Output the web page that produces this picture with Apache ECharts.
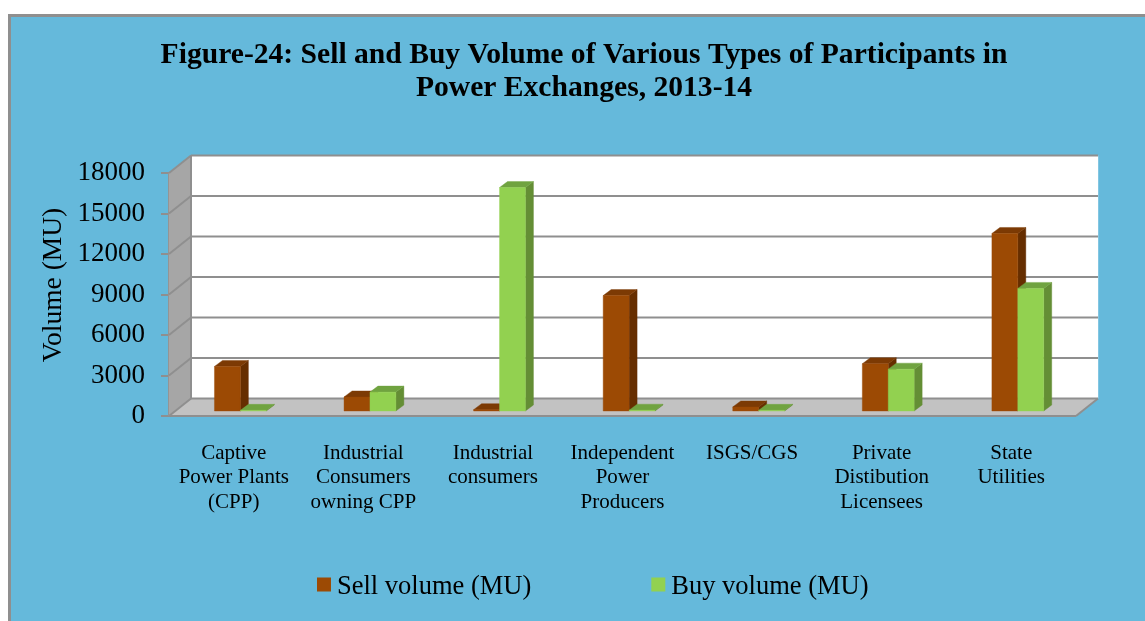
<!DOCTYPE html>
<html><head><meta charset="utf-8">
<style>html,body{margin:0;padding:0;background:#fff}#c{width:1145px;height:621px}</style>
<script src="https://cdn.jsdelivr.net/npm/echarts@6/dist/echarts.min.js"></script>
</head><body><div id="c"></div>
<script>
const categories = ['Captive\nPower Plants\n(CPP)','Industrial\nConsumers\nowning CPP','Industrial\nconsumers','Independent\nPower\nProducers','ISGS/CGS','Private\nDistibution\nLicensees','State\nUtilities'];
const sellVolume = [3300, 1040, 100, 8550, 300, 3500, 13150];
const buyVolume = [50, 1400, 16550, 60, 50, 3100, 9080];
const yTicks = [0,3000,6000,9000,12000,15000,18000];

const FONT = '"Liberation Serif","Times New Roman",serif';
const WALL = {x:22, y:-17.5}, BAR = {x:8, y:-6}, SHIFT = {x:6.6, y:-5};
const GRID_COLOR = '#8f8f8f';

function poly(points, fill) {
  return {type:'polygon', shape:{points}, style:{fill, stroke:fill, lineWidth:0.4}};
}
function frameItem(params, api) {
  const cs = params.coordSys, v = api.value(0), p = api.coord([0, v]);
  const l = cs.x, r = cs.x + cs.width, y = p[1], w = WALL;
  const line = (a,b,c,d) => ({type:'line', shape:{x1:a,y1:b,x2:c,y2:d}, style:{stroke:GRID_COLOR, lineWidth:2}});
  const children = [];
  if (params.dataIndex === 0) {
    const t = cs.y, b = cs.y + cs.height;
    children.push(poly([[l+w.x,t+w.y],[r+w.x,t+w.y],[r+w.x,b+w.y],[l+w.x,b+w.y]], '#ffffff'));
    children.push(poly([[l,t],[l+w.x,t+w.y],[l+w.x,b+w.y],[l,b]], '#a6a6a6'));
    children.push(poly([[l,b],[l+w.x,b+w.y],[r+w.x,b+w.y],[r,b]], '#c2c2c2'));
    children.push(line(l+w.x,t+w.y,l+w.x,b+w.y));
    children.push(line(r,b,r+w.x,b+w.y));
    children.push(line(l,b,r,b));
  }
  children.push(line(l,y,l+w.x,y+w.y));
  children.push(line(l+w.x,y+w.y,r+w.x,y+w.y));
  return {type:'group', children};
}
function barItem(dir, front, side, top) {
  return function(params, api) {
    const i = api.value(0), v = api.value(1);
    const c = api.coord([i, v]), z = api.coord([i, 0]);
    const bw = api.size([1,0])[0] * 0.2;
    const x0 = c[0] + SHIFT.x + (dir < 0 ? -bw : 0), x1 = x0 + bw;
    const yt = c[1] + SHIFT.y, yb = z[1] + SHIFT.y, d = BAR;
    return {type:'group', children:[
      poly([[x1,yt],[x1+d.x,yt+d.y],[x1+d.x,yb+d.y],[x1,yb]], side),
      poly([[x0,yt],[x0+d.x,yt+d.y],[x1+d.x,yt+d.y],[x1,yt]], top),
      poly([[x0,yt],[x1,yt],[x1,yb],[x0,yb]], front)
    ]};
  };
}
const chart = echarts.init(document.getElementById('c'), null, {renderer:'canvas'});
chart.setOption({
  animation:false,
  backgroundColor:'#ffffff',
  textStyle:{fontFamily:FONT},
  graphic:[
    {type:'rect', z:-10, silent:true, shape:{x:9.5,y:15.5,width:1200,height:700},
     style:{fill:'#65b9db', stroke:'#8f8f8f', lineWidth:3}},
    {type:'text', z:10, x:54, y:285, rotation:Math.PI/2,
     style:{text:'Volume (MU)', font:'27.5px '+FONT, fill:'#000', align:'center', verticalAlign:'middle'}}
  ],
  title:{text:'Figure-24: Sell and Buy Volume of Various Types of Participants in\nPower Exchanges, 2013-14',
    left:579, top:34, textAlign:'center',
    textStyle:{fontFamily:FONT, fontWeight:'bold', fontSize:29.6, lineHeight:33, color:'#000'}},
  legend:{
    left:312, top:569, itemWidth:14, itemHeight:20, itemGap:120,
    icon:'path://M0 0H14V14H0Z M0 20H14Z',
    data:['Sell volume (MU)','Buy volume (MU)'],
    textStyle:{fontFamily:FONT, fontSize:26.5, color:'#000', padding:[0,0,0,1]}
  },
  grid:{left:169, top:173, width:907, height:243},
  xAxis:{type:'category', data:categories,
    axisLine:{show:false}, axisTick:{show:false}, splitLine:{show:false},
    axisLabel:{interval:0, margin:25, fontFamily:FONT, fontSize:21, lineHeight:24.5, color:'#000'}},
  yAxis:{type:'value', min:0, max:18000, interval:3000,
    axisLine:{show:true, lineStyle:{color:GRID_COLOR, width:2}},
    axisTick:{show:true, length:8, lineStyle:{color:GRID_COLOR, width:2}},
    splitLine:{show:false},
    axisLabel:{margin:24, fontFamily:FONT, fontSize:27, color:'#000', formatter:v=>String(v)}},
  series:[
    {type:'custom', name:'frame', silent:true, z:1, coordinateSystem:'cartesian2d',
     data:yTicks.map(t=>[t]), encode:{y:0}, renderItem:frameItem, clip:false},
    {type:'custom', name:'Sell volume (MU)', z:2, coordinateSystem:'cartesian2d',
     itemStyle:{color:'#9c4a04'}, encode:{x:0,y:1},
     data:sellVolume.map((v,i)=>[i,v]), renderItem:barItem(-1,'#9c4a04','#662e00','#7c3a04')},
    {type:'custom', name:'Buy volume (MU)', z:3, coordinateSystem:'cartesian2d',
     itemStyle:{color:'#92d150'}, encode:{x:0,y:1},
     data:buyVolume.map((v,i)=>[i,v]), renderItem:barItem(1,'#92d150','#648e35','#70a340')}
  ]
});
</script></body></html>
